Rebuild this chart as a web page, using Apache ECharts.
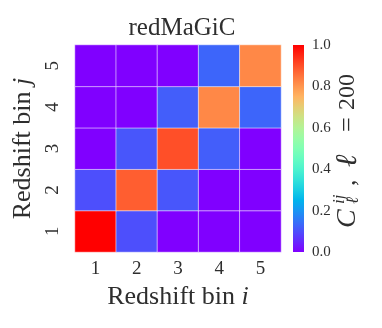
<!DOCTYPE html>
<html>
<head>
    <meta charset="UTF-8">
    <title>redMaGiC heatmap</title>
    <script src="https://cdn.jsdelivr.net/npm/echarts@6/dist/echarts.min.js"></script>
    <style>
    body, html { margin: 0; padding: 0; background: #fff; }
    #chart { width: 382px; height: 328px; }
    </style>
</head>
<body>
<div id="chart"></div>
<script>
// redshift bins (i along x, j along y)
var binsI = ['1', '2', '3', '4', '5'];
var binsJ = ['1', '2', '3', '4', '5'];
// correlation at l = 200, one row per bin j (bottom to top)
var row1 = [1.00, 0.10, 0.00, 0.00, 0.00];
var row2 = [0.10, 0.88, 0.11, 0.00, 0.00];
var row3 = [0.00, 0.11, 0.90, 0.12, 0.00];
var row4 = [0.00, 0.00, 0.12, 0.82, 0.13];
var row5 = [0.00, 0.00, 0.00, 0.13, 0.82];
var rows = [row1, row2, row3, row4, row5];
var cbTicks = [0, 0.2, 0.4, 0.6, 0.8, 1.0];

// matplotlib "rainbow" colormap
function rainbow(x) {
    var c = [Math.abs(2 * x - 0.5), Math.sin(Math.PI * x), Math.cos(Math.PI * x / 2)];
    return 'rgb(' + c.map(function (v) {
        return Math.round(Math.max(0, Math.min(1, v)) * 255);
    }).join(',') + ')';
}
var cmap = [], stops = [];
for (var k = 0; k <= 20; k++) {
    cmap.push(rainbow(k / 20));
    stops.push({ offset: k / 20, color: rainbow(k / 20) });
}

var data = [];
rows.forEach(function (r, j) {
    r.forEach(function (v, i) { data.push([i, j, v]); });
});

var serif = '"Liberation Serif", "DejaVu Serif", serif';
var txt = '#2e2e2e';

// colorbar label pieces: C_l^ij, l = 200 (rotated, read bottom to top)
function piece(s, x, y, size, italic) {
    return {
        type: 'text', x: x, y: y,
        style: {
            text: s, fontFamily: serif, fontSize: size, fill: txt,
            fontStyle: italic ? 'italic' : 'normal', verticalAlign: 'middle'
        }
    };
}

var chart = echarts.init(document.getElementById('chart'));
chart.setOption({
    animation: false,
    title: {
        text: 'redMaGiC',
        left: 177, top: 11, textAlign: 'center',
        textStyle: { fontFamily: serif, fontWeight: 'normal', fontSize: 25, color: txt }
    },
    grid: [
        { left: 75, top: 45, width: 206, height: 207 },
        { left: 293, top: 45, width: 11, height: 207 }
    ],
    xAxis: [{
        type: 'category', data: binsI, gridIndex: 0,
        axisLine: { show: false }, axisTick: { show: false }, splitLine: { show: false },
        axisLabel: { fontFamily: serif, fontSize: 19, color: txt, margin: 8 },
        name: 'Redshift bin {it|i}', nameLocation: 'middle', nameGap: 29,
        nameTextStyle: {
            fontFamily: serif, fontSize: 26, color: txt,
            rich: { it: { fontFamily: serif, fontStyle: 'italic', fontSize: 26, color: txt } }
        }
    }, {
        type: 'category', data: ['cb'], gridIndex: 1, show: false
    }],
    yAxis: [{
        type: 'category', data: binsJ, gridIndex: 0,
        axisLine: { show: false }, axisTick: { show: false }, splitLine: { show: false },
        axisLabel: { fontFamily: serif, fontSize: 19, color: txt, rotate: 90, margin: 12 },
        name: 'Redshift bin {it|j}', nameLocation: 'middle', nameRotate: 90, nameGap: 34,
        nameTextStyle: {
            fontFamily: serif, fontSize: 26, color: txt,
            rich: { it: { fontFamily: serif, fontStyle: 'italic', fontSize: 26, color: txt } }
        }
    }, {
        type: 'value', gridIndex: 1, position: 'right', min: 0, max: 1, interval: 0.2,
        axisLine: { show: false }, axisTick: { show: false }, splitLine: { show: false },
        axisLabel: {
            fontFamily: serif, fontSize: 15, color: txt, margin: 8,
            formatter: function (v) { return v.toFixed(1); }
        }
    }],
    visualMap: {
        show: false, min: 0, max: 1, seriesIndex: 0, dimension: 2,
        inRange: { color: cmap }
    },
    graphic: [{
        type: 'group', x: 348, y: 227, rotation: Math.PI / 2,
        children: [
            piece('C', -1, 0, 28, true),
            piece('ij', 23, -8, 17, true),
            piece('ℓ', 23, 6, 17, true),
            piece(',', 41, 0, 26, false),
            piece('ℓ', 60, 0, 30, true),
            piece('=', 95, 0, 26, false),
            piece('200', 117, 0, 24, false)
        ]
    }],
    series: [{
        type: 'heatmap', data: data, xAxisIndex: 0, yAxisIndex: 0,
        itemStyle: { borderColor: 'rgba(255,255,255,0.55)', borderWidth: 1 }
    }, {
        type: 'bar', data: cbTicks.slice(-1), xAxisIndex: 1, yAxisIndex: 1,
        barWidth: '100%', silent: true,
        itemStyle: { color: { type: 'linear', x: 0, y: 1, x2: 0, y2: 0, colorStops: stops } }
    }]
});
</script>
</body>
</html>
